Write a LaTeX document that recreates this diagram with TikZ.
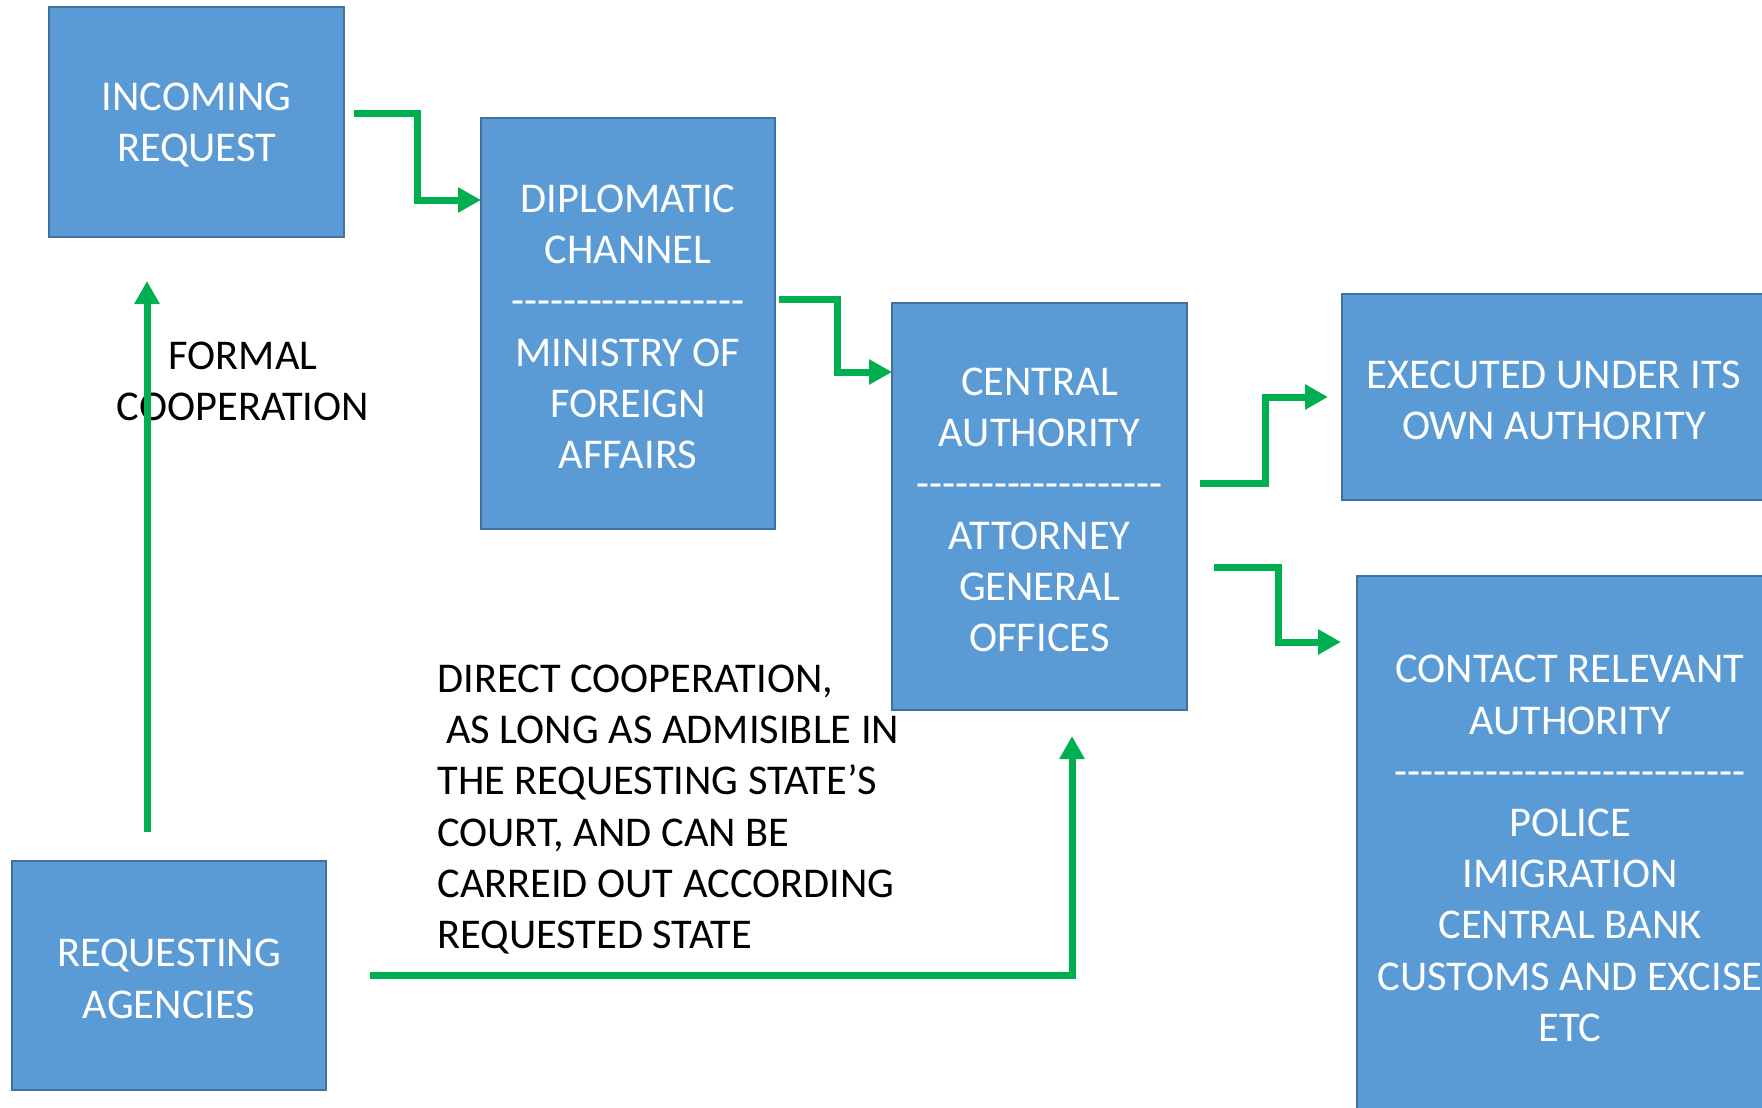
\documentclass[tikz,border=0pt]{standalone}
\usepackage{fontspec}
\setmainfont{Carlito}
\usetikzlibrary{arrows.meta}
\definecolor{boxblue}{HTML}{5B9BD5}
\definecolor{boxedge}{HTML}{41719C}
\definecolor{arrgreen}{HTML}{00B050}
\newcommand\dashrow[1]{\foreach \i in {1,...,#1}{-\kern0pt}}
\newcommand\tp{\rule{0pt}{17.2pt}}
\begin{document}
\begin{tikzpicture}[x=0.5pt,y=-0.5pt,
  box/.style={draw=boxedge, line width=1.2pt, fill=boxblue, text=white, align=center,
    inner sep=0pt, outer sep=0pt, font=\fontsize{21.2}{25.6}\selectfont},
  arr/.style={draw=arrgreen, line width=3.5pt, -{Triangle[length=11.5pt,width=12pt]}},
  lbl/.style={text=black, inner sep=0pt, font=\fontsize{21.2}{25.6}\selectfont}]
\useasboundingbox (0,0) rectangle (1762,1108);
\clip (0,0) rectangle (1762,1108);

\node[box, minimum width=147.5pt, minimum height=115pt] (b1) at (196.5,122) {\tp INCOMING\\REQUEST};
\node[box, minimum width=147pt, minimum height=205.5pt] (b2) at (628,323.5)
  {\tp DIPLOMATIC\\CHANNEL\\\dashrow{18}\\MINISTRY OF\\FOREIGN\\AFFAIRS};
\node[box, minimum width=147.5pt, minimum height=203.5pt] (b3) at (1039.5,506.5)
  {\tp CENTRAL\\AUTHORITY\\\dashrow{19}\\ATTORNEY\\GENERAL\\OFFICES};
\node[box, minimum width=212pt, minimum height=103pt] (b4) at (1554,397)
  {\tp EXECUTED UNDER ITS\\OWN AUTHORITY};
\node[box, minimum width=213pt, minimum height=269pt] (b5) at (1570,845)
  {\tp CONTACT RELEVANT\\AUTHORITY\\\dashrow{27}\\POLICE\\IMIGRATION\\CENTRAL BANK\\CUSTOMS AND EXCISE\\ETC};
\node[box, minimum width=157pt, minimum height=114.5pt] (b6) at (169,975.5) {\tp REQUESTING\\AGENCIES};

\node[lbl, align=center] (fc) at (243,381) {FORMAL\\COOPERATION};
\node[lbl, align=left, anchor=west] (dc) at (437,809.5)
  {DIRECT COOPERATION,\\\hspace*{4.5pt}AS LONG AS ADMISIBLE IN\\THE REQUESTING STATE’S\\COURT, AND CAN BE\\CARREID OUT ACCORDING\\REQUESTED STATE};

\coordinate (a1s) at (354,113);
\draw[arr] (a1s) -| (417,200) -- ([yshift=61.75pt]b2.west);
\coordinate (a2s) at (779,299);
\draw[arr] (a2s) -| (837,372) -- ([yshift=67.25pt]b3.west);
\coordinate (a3s) at (1200,483);
\draw[arr] (a3s) -| (1265,397) -- ([xshift=-7pt]b4.west);
\coordinate (a4s) at (1214,567);
\draw[arr] (a4s) -| (1278,642) -- ([xshift=-8pt,yshift=101.5pt]b5.west);
\draw[arr] ([xshift=-11pt,yshift=14.5pt]b6.north) -- ([xshift=-24.75pt,yshift=-22pt]b1.south);
\draw[arr] ([xshift=22pt]b6.east) -| ([xshift=16.25pt,yshift=-13pt]b3.south);
\end{tikzpicture}
\end{document}
